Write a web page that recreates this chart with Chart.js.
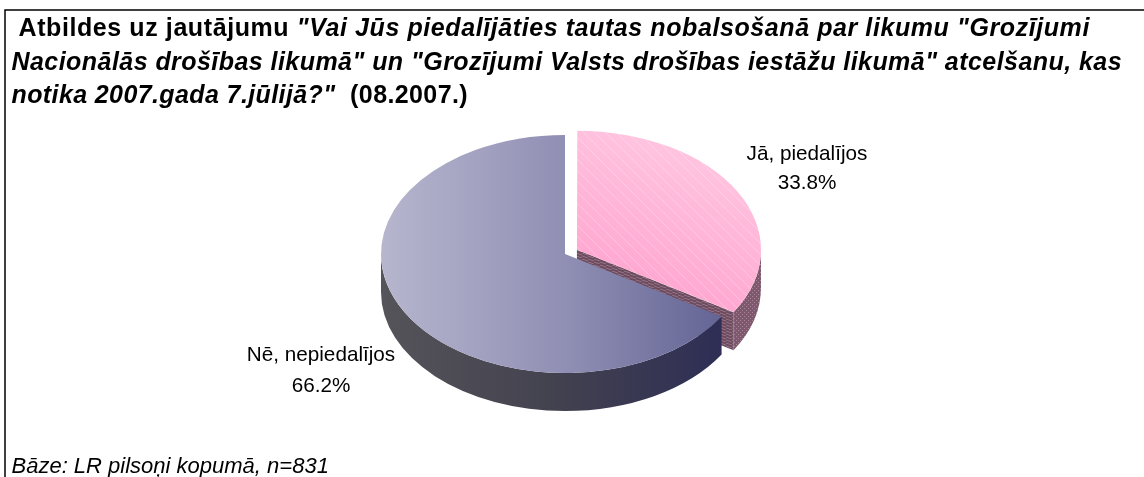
<!DOCTYPE html>
<html><head><meta charset="utf-8">
<style>html,body{margin:0;padding:0;background:#fff}#w{position:absolute;left:0;top:0;width:1144px;height:477px}</style>
<script src="https://cdn.jsdelivr.net/npm/chart.js@4"></script>
</head><body><div id="w"><canvas id="c" width="1144" height="477"></canvas></div>
<script>
const categories = ["Jā, piedalījos", "Nē, nepiedalījos"];
const shares = [33.8, 66.2];
const shareLabels = ["33.8%", "66.2%"];
const titleLines = [
  [["b", " Atbildes uz jautājumu "], ["bi", "\"Vai Jūs piedalījāties tautas nobalsošanā par likumu \"Grozījumi"]],
  [["bi", "Nacionālās drošības likumā\" un \"Grozījumi Valsts drošības iestāžu likumā\" atcelšanu, kas"]],
  [["bi", "notika 2007.gada 7.jūlijā?\""], ["b", "  (08.2007.)"]]
];
const footnote = "Bāze: LR pilsoņi kopumā, n=831";

const FF = '"Liberation Sans", Arial, sans-serif';
const SQUASH = 119/184, DEPTH = 38;
const canvas = document.getElementById('c');
const ctx0 = canvas.getContext('2d');

function pat(w, h, bg, fn){
  const c = document.createElement('canvas'); c.width = w; c.height = h;
  const g = c.getContext('2d'); g.fillStyle = bg; g.fillRect(0,0,w,h); fn(g);
  return ctx0.createPattern(c, 'repeat');
}
function hatch(){
  const s = 11, c = document.createElement('canvas'); c.width = s; c.height = s;
  const g = c.getContext('2d'); g.strokeStyle = 'rgba(255,255,255,0.32)'; g.lineWidth = 0.8;
  g.beginPath(); for(let i=-s;i<=s;i+=s){g.moveTo(i,0);g.lineTo(i+s,s);} g.stroke();
  return ctx0.createPattern(c,'repeat');
}
const cutPat = pat(6,6,'#6c4b5e',g=>{g.strokeStyle='rgba(225,190,210,.45)';g.lineWidth=.8;g.beginPath();g.moveTo(0,1);g.lineTo(6,3);g.moveTo(0,4);g.lineTo(6,6);g.stroke();});
const rimPat = pat(4,4,'#7a5a6c',g=>{g.fillStyle='#b08099';g.fillRect(0,0,1,1);g.fillRect(2,2,1,1);});
const hatchPat = hatch();

function geom(el){
  const off = (el.options.offset||0)/4, mid = (el.startAngle+el.endAngle)/2;
  const fix = 1-Math.sin(Math.min(Math.PI, el.circumference||0));
  return {x: el.x+Math.cos(mid)*off, y: el.y+Math.sin(mid)*SQUASH*off,
          r: el.outerRadius+off*fix, a: el.startAngle, b: el.endAngle};
}
function wall(ctx, g, fill){
  const a = Math.max(g.a, 0), b = Math.min(g.b, Math.PI);
  if (b <= a) return;
  ctx.beginPath();
  ctx.ellipse(g.x, g.y, g.r, g.r*SQUASH, 0, a, b);
  ctx.ellipse(g.x, g.y+DEPTH, g.r, g.r*SQUASH, 0, b, a, true);
  ctx.closePath(); ctx.fillStyle = fill; ctx.fill();
}
const pie3d = {
  id:'pie3d',
  afterDatasetsUpdate(chart){
    // the library grows an offset arc's radius; keep both slices the same size
    const el = chart.getDatasetMeta(0).data[0];
    const off = (el.options.offset||0)/4;
    el.outerRadius -= off*(1-Math.sin(Math.min(Math.PI, el.circumference||0)));
  },
  beforeDraw(chart){
    const ctx = chart.ctx;
    ctx.save(); ctx.fillStyle='#fff'; ctx.fillRect(0,0,1144,477);
    ctx.strokeStyle='#000'; ctx.lineWidth=1.5;
    ctx.beginPath(); ctx.moveTo(5,477); ctx.lineTo(5,10); ctx.lineTo(1144,10); ctx.stroke();
    ctx.restore();
  },
  beforeDatasetsDraw(chart){
    const ctx = chart.ctx, arcs = chart.getDatasetMeta(0).data;
    const pink = geom(arcs[0]), blue = geom(arcs[1]);
    const tipX = pink.x+pink.r*Math.cos(pink.b), tipY = pink.y+pink.r*SQUASH*Math.sin(pink.b);
    ctx.save();
    ctx.beginPath(); ctx.moveTo(pink.x,pink.y); ctx.lineTo(tipX,tipY); ctx.lineTo(tipX,tipY+DEPTH); ctx.lineTo(pink.x,pink.y+DEPTH); ctx.closePath();
    ctx.fillStyle = cutPat; ctx.fill();
    wall(ctx, pink, rimPat);
    const bg = ctx.createLinearGradient(blue.x-blue.r,0,blue.x+blue.r*Math.cos(blue.a),0);
    bg.addColorStop(0,'#55545a'); bg.addColorStop(.5,'#43424f'); bg.addColorStop(1,'#2e2e56');
    wall(ctx, blue, bg);
    ctx.restore();
    const a0 = arcs[0];
    ctx.save();
    ctx.translate(a0.x, a0.y); ctx.scale(1, SQUASH); ctx.translate(-a0.x, -a0.y);
  },
  afterDatasetsDraw(chart){
    const ctx = chart.ctx, arcs = chart.getDatasetMeta(0).data;
    ctx.restore();
    const p = geom(arcs[0]);
    ctx.save();
    ctx.beginPath(); ctx.moveTo(p.x,p.y); ctx.ellipse(p.x,p.y,p.r,p.r*SQUASH,0,p.a,p.b); ctx.closePath();
    ctx.fillStyle = hatchPat; ctx.fill();
    ctx.restore();
    ctx.save();
    ctx.fillStyle='#000'; ctx.font='20.7px '+FF; ctx.textAlign='center'; ctx.textBaseline='alphabetic';
    const pos = [[807,160,189],[321,361,392]];
    categories.forEach((c,i)=>{ ctx.fillText(c,pos[i][0],pos[i][1]); ctx.fillText(shareLabels[i],pos[i][0],pos[i][2]); });
    ctx.textAlign='left';
    const starts=[11,11.5,11.5], ends=[1090,1122,468], bases=[36,70,103];
    titleLines.forEach((runs,l)=>{
      const font=k=>(k==='bi'?'italic bold ':'bold ')+'25px '+FF;
      ctx.letterSpacing='0px';
      let w=0,n=0; runs.forEach(r=>{ctx.font=font(r[0]); w+=ctx.measureText(r[1]).width; n+=r[1].length;});
      ctx.letterSpacing=((ends[l]-starts[l]-w)/n).toFixed(3)+'px';
      let x=starts[l];
      runs.forEach(r=>{ctx.font=font(r[0]); ctx.fillText(r[1],x,bases[l]); x+=ctx.measureText(r[1]).width;});
    });
    ctx.letterSpacing='0px';
    ctx.font='italic 22px '+FF; ctx.fillText(footnote,11.5,473);
    ctx.restore();
  }
};

const blueGrad = ctx0.createLinearGradient(381,0,721,0);
blueGrad.addColorStop(0,'#b7b6ce'); blueGrad.addColorStop(.54,'#908fb4'); blueGrad.addColorStop(1,'#646595');
const pinkGrad = ctx0.createLinearGradient(600,400,760,120);
pinkGrad.addColorStop(0,'#ff99c9'); pinkGrad.addColorStop(1,'#ffc8e2');

new Chart(canvas,{
  type:'pie',
  data:{labels:categories,datasets:[{data:shares,backgroundColor:[pinkGrad,blueGrad],borderWidth:0,offset:[54.8,0]}]},
  options:{
    responsive:false,animation:false,radius:184,
    layout:{padding:{left:0,right:14,top:31,bottom:0}},
    plugins:{legend:{display:false},tooltip:{enabled:false},title:{display:false}}
  },
  plugins:[pie3d]
});
</script></body></html>
